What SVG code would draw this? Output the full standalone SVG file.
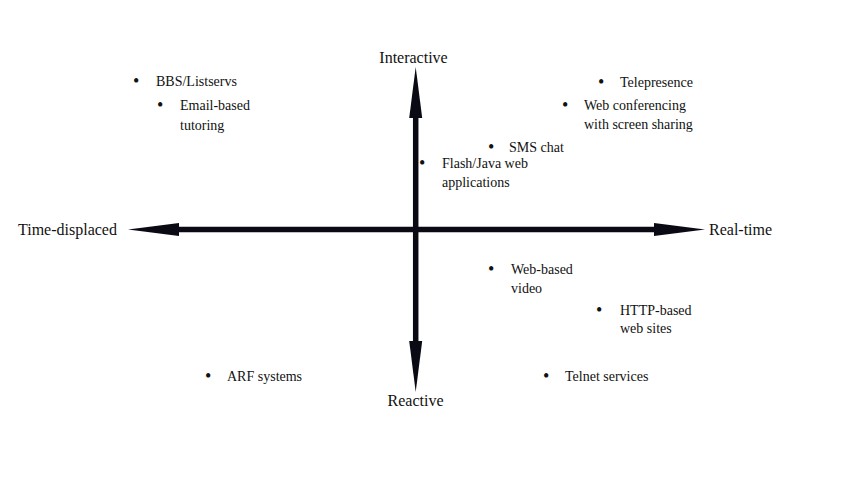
<svg xmlns="http://www.w3.org/2000/svg" width="850" height="478" viewBox="0 0 850 478">
  <defs>
    <style>
      .axis { font-family: "Liberation Serif", "Times New Roman", serif; font-size: 16px; fill: #111; }
      .item { font-family: "Liberation Serif", "Times New Roman", serif; font-size: 14px; fill: #111; }
      .bullet { font-family: "Liberation Serif", "Times New Roman", serif; font-size: 18px; fill: #111; }
      .shaft { stroke: #0a0a14; stroke-width: 5.5; fill: none; }
    </style>
    <marker id="head" markerUnits="userSpaceOnUse" markerWidth="52" markerHeight="14" viewBox="-1 -7 52 14" refX="0" refY="0" orient="auto-start-reverse">
      <path d="M-1,-6.5 L50,0 L-1,6.5 Z" fill="#0a0a14"/>
    </marker>
  </defs>
  <rect width="850" height="478" fill="#ffffff"/>

  <g id="connectors">
    <line class="shaft" x1="415.7" y1="117" x2="415.7" y2="342" marker-start="url(#head)" marker-end="url(#head)"/>
    <line class="shaft" x1="178" y1="229.5" x2="655" y2="229.5" marker-start="url(#head)" marker-end="url(#head)"/>
  </g>

  <g id="axis-interactive"><text class="axis" x="413.5" y="62.5" text-anchor="middle">Interactive</text></g>
  <g id="axis-reactive"><text class="axis" x="415.5" y="406" text-anchor="middle">Reactive</text></g>
  <g id="axis-time-displaced"><text class="axis" x="18" y="235">Time-displaced</text></g>
  <g id="axis-real-time"><text class="axis" x="709" y="235">Real-time</text></g>

  <g id="item-bbs">
    <text class="bullet" x="133" y="87">•</text>
    <text class="item" x="156" y="86">BBS/Listservs</text>
  </g>
  <g id="item-email">
    <text class="bullet" x="157" y="111">•</text>
    <text class="item" x="180" y="110">Email-based</text>
    <text class="item" x="180" y="130">tutoring</text>
  </g>
  <g id="item-telepresence">
    <text class="bullet" x="598" y="88">•</text>
    <text class="item" x="620" y="87">Telepresence</text>
  </g>
  <g id="item-webconf">
    <text class="bullet" x="562" y="111">•</text>
    <text class="item" x="584" y="110">Web conferencing</text>
    <text class="item" x="584" y="129">with screen sharing</text>
  </g>
  <g id="item-sms">
    <text class="bullet" x="488" y="153">•</text>
    <text class="item" x="509" y="152">SMS chat</text>
  </g>
  <g id="item-flash">
    <text class="bullet" x="419" y="169">•</text>
    <text class="item" x="442" y="168">Flash/Java web</text>
    <text class="item" x="442" y="187">applications</text>
  </g>
  <g id="item-webvideo">
    <text class="bullet" x="488" y="275">•</text>
    <text class="item" x="511" y="274">Web-based</text>
    <text class="item" x="511" y="293">video</text>
  </g>
  <g id="item-http">
    <text class="bullet" x="596" y="316">•</text>
    <text class="item" x="620" y="315">HTTP-based</text>
    <text class="item" x="620" y="333">web sites</text>
  </g>
  <g id="item-arf">
    <text class="bullet" x="205" y="382">•</text>
    <text class="item" x="227" y="381">ARF systems</text>
  </g>
  <g id="item-telnet">
    <text class="bullet" x="543" y="382">•</text>
    <text class="item" x="565" y="381">Telnet services</text>
  </g>
</svg>
